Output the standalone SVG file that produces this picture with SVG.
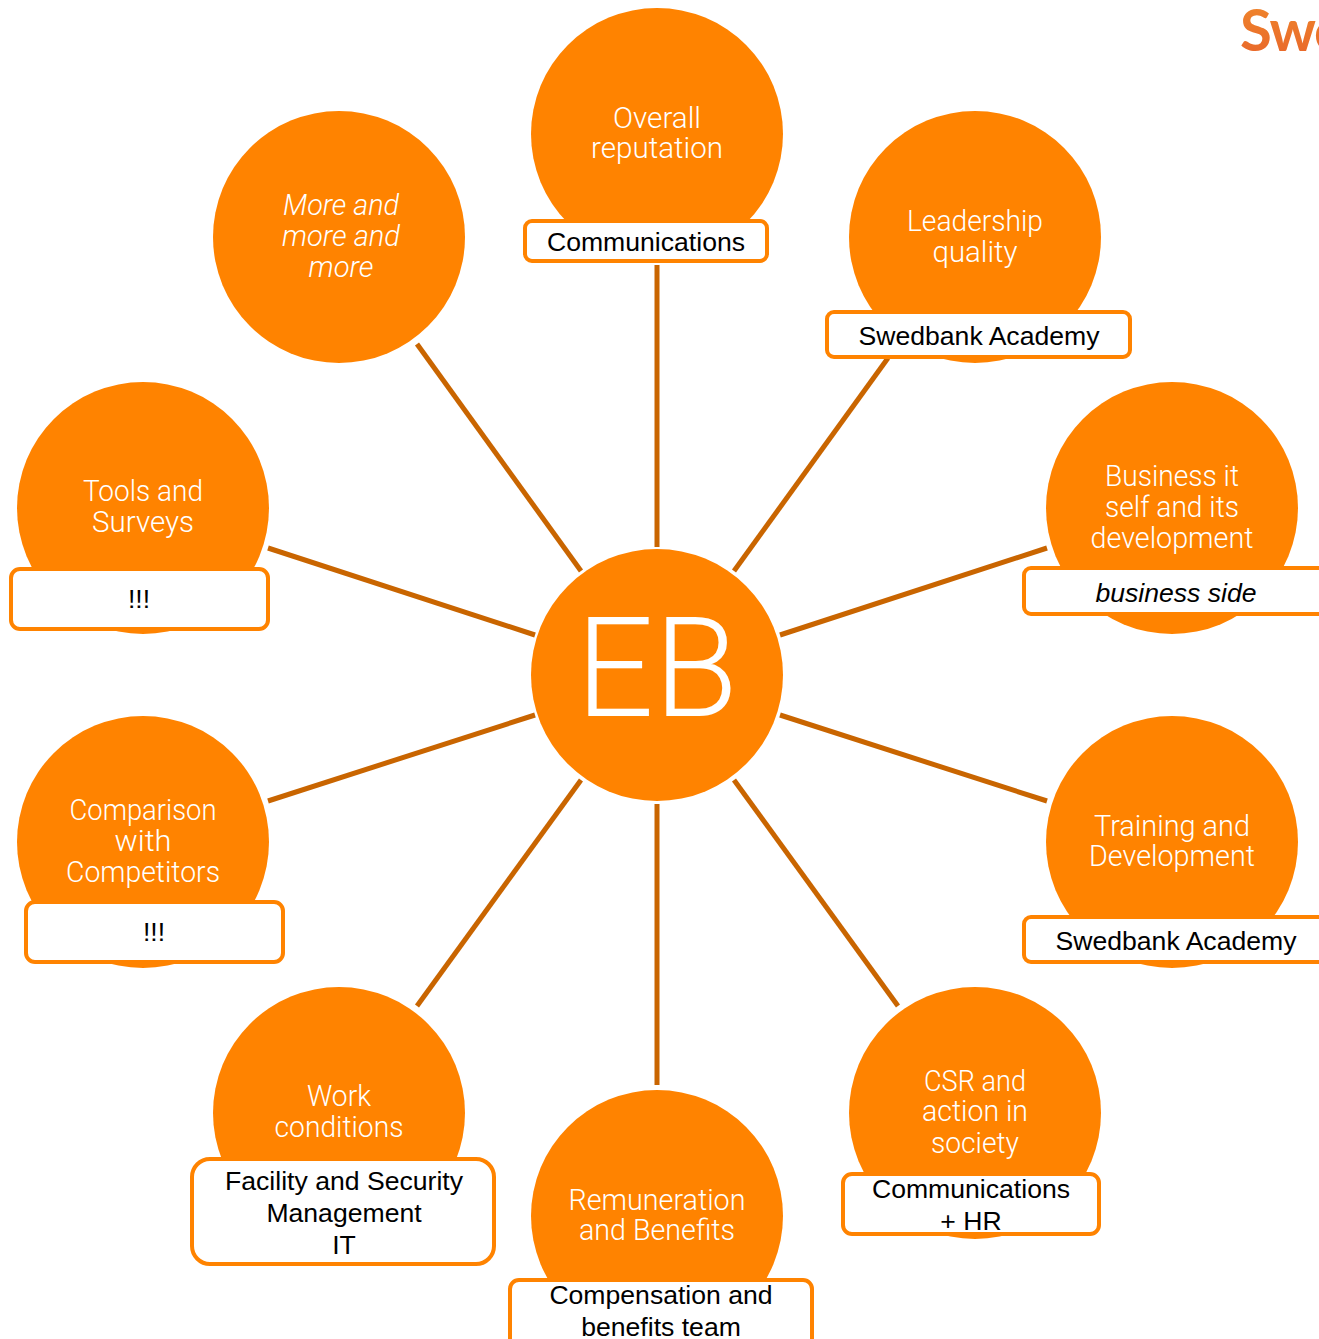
<svg xmlns="http://www.w3.org/2000/svg" width="1319" height="1339" viewBox="0 0 1319 1339">
<style>
.c{fill:#ff8300}
.t{font-family:"Roboto","Noto Sans",sans-serif;font-weight:300;font-size:30px;fill:#fff;text-anchor:middle}
.b{fill:#fff;stroke:#ff8300;stroke-width:4}
.l{font-family:"Liberation Sans",Arial,sans-serif;font-size:26.6px;fill:#000;text-anchor:middle}
#connectors line{stroke:#c96500;stroke-width:5}
</style>
<defs><linearGradient id="g" x1="0" y1="0" x2="0" y2="1"><stop offset="0" stop-color="#f08a2c"/><stop offset="1" stop-color="#e8642a"/></linearGradient></defs>
<rect width="1319" height="1339" fill="#fff"/>
<text x="1240" y="51" font-family="Lato,'Open Sans',sans-serif" font-size="58" font-weight="700" letter-spacing="-1.5" fill="url(#g)">Swe</text>
<g id="connectors">
<line x1="657" y1="265" x2="657" y2="547"/>
<line x1="888" y1="358" x2="734" y2="571"/>
<line x1="1047" y1="548" x2="780" y2="635"/>
<line x1="1047" y1="801" x2="780" y2="715"/>
<line x1="898" y1="1006" x2="734" y2="780"/>
<line x1="657" y1="1085" x2="657" y2="804"/>
<line x1="417" y1="1006" x2="581" y2="780"/>
<line x1="268" y1="801" x2="535" y2="715"/>
<line x1="268" y1="548" x2="535" y2="635"/>
<line x1="417" y1="344" x2="581" y2="571"/>
</g>
<g id="eb"><circle class="c" cx="657" cy="675" r="126"/><text class="t" x="657" y="716" style="font-size:139px;font-weight:300" textLength="162" lengthAdjust="spacingAndGlyphs">EB</text></g>
<g id="overall"><circle class="c" cx="657" cy="134" r="126"/><text class="t" x="657" y="128" textLength="88" lengthAdjust="spacingAndGlyphs">Overall</text><text class="t" x="657" y="158" textLength="132" lengthAdjust="spacingAndGlyphs">reputation</text><rect class="b" x="525" y="221" width="242" height="40" rx="7"/><text class="l" x="646" y="251">Communications</text></g>
<g id="leadership"><circle class="c" cx="975" cy="237" r="126"/><text class="t" x="975" y="231" textLength="136" lengthAdjust="spacingAndGlyphs">Leadership</text><text class="t" x="975" y="262" textLength="85" lengthAdjust="spacingAndGlyphs">quality</text><rect class="b" x="827" y="312" width="303" height="45" rx="7"/><text class="l" x="979" y="345">Swedbank Academy</text></g>
<g id="business"><circle class="c" cx="1172" cy="508" r="126"/><text class="t" x="1172" y="486" textLength="134" lengthAdjust="spacingAndGlyphs">Business it</text><text class="t" x="1172" y="517" textLength="134" lengthAdjust="spacingAndGlyphs">self and its</text><text class="t" x="1172" y="548" textLength="163" lengthAdjust="spacingAndGlyphs">development</text><rect class="b" x="1024" y="568" width="320" height="46" rx="7"/><text class="l" x="1176" y="602" font-style="italic">business side</text></g>
<g id="training"><circle class="c" cx="1172" cy="842" r="126"/><text class="t" x="1172" y="836" textLength="156" lengthAdjust="spacingAndGlyphs">Training and</text><text class="t" x="1172" y="866" textLength="166" lengthAdjust="spacingAndGlyphs">Development</text><rect class="b" x="1024" y="917" width="320" height="45" rx="7"/><text class="l" x="1176" y="950">Swedbank Academy</text></g>
<g id="csr"><circle class="c" cx="975" cy="1113" r="126"/><text class="t" x="975" y="1091" textLength="102" lengthAdjust="spacingAndGlyphs">CSR and</text><text class="t" x="975" y="1121" textLength="106" lengthAdjust="spacingAndGlyphs">action in</text><text class="t" x="975" y="1153" textLength="88" lengthAdjust="spacingAndGlyphs">society</text><rect class="b" x="843" y="1174" width="256" height="60" rx="9"/><text class="l" x="971" y="1198">Communications</text><text class="l" x="971" y="1230">+ HR</text></g>
<g id="remuneration"><circle class="c" cx="657" cy="1216" r="126"/><text class="t" x="657" y="1210" textLength="177" lengthAdjust="spacingAndGlyphs">Remuneration</text><text class="t" x="657" y="1240" textLength="156" lengthAdjust="spacingAndGlyphs">and Benefits</text><rect class="b" x="510" y="1280" width="302" height="70" rx="9"/><text class="l" x="661" y="1304">Compensation and</text><text class="l" x="661" y="1336">benefits team</text></g>
<g id="work"><circle class="c" cx="339" cy="1113" r="126"/><text class="t" x="339" y="1106" textLength="64" lengthAdjust="spacingAndGlyphs">Work</text><text class="t" x="339" y="1137" textLength="129" lengthAdjust="spacingAndGlyphs">conditions</text><rect class="b" x="192" y="1159" width="302" height="105" rx="18"/><text class="l" x="344" y="1190">Facility and Security</text><text class="l" x="344" y="1222">Management</text><text class="l" x="344" y="1254">IT</text></g>
<g id="comparison"><circle class="c" cx="143" cy="842" r="126"/><text class="t" x="143" y="820" textLength="147" lengthAdjust="spacingAndGlyphs">Comparison</text><text class="t" x="143" y="851" textLength="57" lengthAdjust="spacingAndGlyphs">with</text><text class="t" x="143" y="882" textLength="154" lengthAdjust="spacingAndGlyphs">Competitors</text><rect class="b" x="26" y="902" width="257" height="60" rx="9"/><text class="l" x="154" y="941">!!!</text></g>
<g id="tools"><circle class="c" cx="143" cy="508" r="126"/><text class="t" x="143" y="501" textLength="120" lengthAdjust="spacingAndGlyphs">Tools and</text><text class="t" x="143" y="532" textLength="102" lengthAdjust="spacingAndGlyphs">Surveys</text><rect class="b" x="11" y="569" width="257" height="60" rx="9"/><text class="l" x="139" y="608">!!!</text></g>
<g id="more"><circle class="c" cx="339" cy="237" r="126"/><text class="t" x="341" y="215" font-style="italic" textLength="116" lengthAdjust="spacingAndGlyphs">More and</text><text class="t" x="341" y="246" font-style="italic" textLength="118" lengthAdjust="spacingAndGlyphs">more and</text><text class="t" x="341" y="277" font-style="italic" textLength="65" lengthAdjust="spacingAndGlyphs">more</text></g>
</svg>
